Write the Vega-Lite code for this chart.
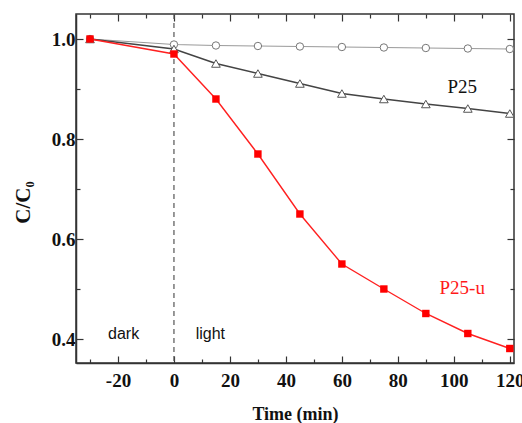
{
  "$schema": "https://vega.github.io/schema/vega-lite/v6.json",
  "autosize": "none",
  "width": 438,
  "height": 349,
  "padding": {"left": 76, "top": 14, "right": 8, "bottom": 60},
  "background": "white",
  "config": {
    "view": {"stroke": "#333", "strokeWidth": 1.5},
    "axis": {
      "grid": false,
      "domainColor": "#333",
      "domainWidth": 1.5,
      "tickColor": "#333",
      "tickWidth": 1.2,
      "labelFont": "Liberation Serif",
      "labelFontWeight": "bold",
      "labelFontSize": 19,
      "labelColor": "#111",
      "titleFont": "Liberation Serif",
      "titleFontWeight": "bold",
      "titleFontSize": 18,
      "titleColor": "#111"
    }
  },
  "resolve": {"axis": {"x": "independent", "y": "independent"}},
  "datasets": {
    "pts": [
      {"t": -30, "c": 1.0, "s": "circle"},
      {"t": 0, "c": 0.989, "s": "circle"},
      {"t": 15, "c": 0.987, "s": "circle"},
      {"t": 30, "c": 0.986, "s": "circle"},
      {"t": 45, "c": 0.985, "s": "circle"},
      {"t": 60, "c": 0.984, "s": "circle"},
      {"t": 75, "c": 0.983, "s": "circle"},
      {"t": 90, "c": 0.982, "s": "circle"},
      {"t": 105, "c": 0.981, "s": "circle"},
      {"t": 120, "c": 0.980, "s": "circle"},
      {"t": -30, "c": 1.0, "s": "P25"},
      {"t": 0, "c": 0.98, "s": "P25"},
      {"t": 15, "c": 0.951, "s": "P25"},
      {"t": 30, "c": 0.931, "s": "P25"},
      {"t": 45, "c": 0.911, "s": "P25"},
      {"t": 60, "c": 0.891, "s": "P25"},
      {"t": 75, "c": 0.880, "s": "P25"},
      {"t": 90, "c": 0.870, "s": "P25"},
      {"t": 105, "c": 0.861, "s": "P25"},
      {"t": 120, "c": 0.851, "s": "P25"},
      {"t": -30, "c": 1.0, "s": "P25-u"},
      {"t": 0, "c": 0.97, "s": "P25-u"},
      {"t": 15, "c": 0.88, "s": "P25-u"},
      {"t": 30, "c": 0.77, "s": "P25-u"},
      {"t": 45, "c": 0.65, "s": "P25-u"},
      {"t": 60, "c": 0.55, "s": "P25-u"},
      {"t": 75, "c": 0.50, "s": "P25-u"},
      {"t": 90, "c": 0.451, "s": "P25-u"},
      {"t": 105, "c": 0.411, "s": "P25-u"},
      {"t": 120, "c": 0.381, "s": "P25-u"}
    ],
    "serifLabels": [
      {"t": 103, "c": 0.905, "txt": "P25", "col": "#111"},
      {"t": 103, "c": 0.503, "txt": "P25-u", "col": "#ff1a1a"}
    ],
    "sansLabels": [
      {"t": -18, "c": 0.41, "txt": "dark"},
      {"t": 13, "c": 0.41, "txt": "light"}
    ],
    "vline": [{"t": 0, "c": 0.5}]
  },
  "layer": [
    {
      "data": {"name": "vline"},
      "mark": {"type": "rule", "color": "#555", "strokeDash": [5, 4], "strokeWidth": 1.2},
      "encoding": {
        "x": {"field": "t", "type": "quantitative", "scale": {"domain": [-35, 121.5], "nice": false, "zero": false},
          "axis": {
            "values": [-30, -20, -10, 0, 10, 20, 30, 40, 50, 60, 70, 80, 90, 100, 110, 120],
            "labelExpr": "datum.value % 20 === 0 ? '' + datum.value : ''",
            "tickSize": {"condition": {"test": "datum.value % 20 === 0", "value": -7}, "value": -4},
            "labelPadding": 15,
            "title": "Time (min)",
            "titlePadding": 15
          }
        }
      }
    },
    {
      "data": {"name": "vline"},
      "mark": {"type": "point", "opacity": 0},
      "encoding": {
        "x": {"field": "t", "type": "quantitative",
          "axis": {
            "orient": "top",
            "values": [-30, -20, -10, 0, 10, 20, 30, 40, 50, 60, 70, 80, 90, 100, 110, 120],
            "labels": false,
            "title": null,
            "domain": false,
            "tickSize": {"condition": {"test": "datum.value % 20 === 0", "value": -7}, "value": -4}
          }
        },
        "y": {"field": "c", "type": "quantitative",
          "axis": {
            "orient": "right",
            "values": [0.4, 0.5, 0.6, 0.7, 0.8, 0.9, 1.0],
            "labels": false,
            "title": null,
            "domain": false,
            "tickSize": {"condition": {"test": "(datum.value * 10) % 2 < 0.5", "value": -7}, "value": -4}
          }
        }
      }
    },
    {
      "data": {"name": "pts"},
      "transform": [{"filter": "datum.s === 'circle'"}],
      "mark": {"type": "line", "color": "#9a9a9a", "strokeWidth": 1.1, "point": {"shape": "circle", "filled": true, "fill": "white", "stroke": "#777", "strokeWidth": 1, "size": 55}},
      "encoding": {
        "x": {"field": "t", "type": "quantitative", "axis": null},
        "y": {"field": "c", "type": "quantitative", "scale": {"domain": [0.352, 1.05], "nice": false, "zero": false},
          "axis": {
            "values": [0.4, 0.5, 0.6, 0.7, 0.8, 0.9, 1.0],
            "format": ".1f",
            "labelExpr": "(datum.value * 10) % 2 < 0.5 ? datum.label : ''",
            "tickSize": {"condition": {"test": "(datum.value * 10) % 2 < 0.5", "value": -7}, "value": -4},
            "labelPadding": 8,
            "title": "C/C₀",
            "titleFontSize": 21,
            "titlePadding": 18,
            "titleY": 188
          }
        }
      }
    },
    {
      "data": {"name": "pts"},
      "transform": [{"filter": "datum.s === 'P25'"}],
      "mark": {"type": "line", "color": "#444", "strokeWidth": 1.6, "point": {"shape": "triangle-up", "filled": true, "fill": "white", "stroke": "#555", "strokeWidth": 1, "size": 75}},
      "encoding": {
        "x": {"field": "t", "type": "quantitative", "axis": null},
        "y": {"field": "c", "type": "quantitative", "axis": null}
      }
    },
    {
      "data": {"name": "pts"},
      "transform": [{"filter": "datum.s === 'P25-u'"}],
      "mark": {"type": "line", "color": "#ff2020", "strokeWidth": 1.4, "point": {"shape": "square", "filled": true, "fill": "#ff0000", "size": 55}},
      "encoding": {
        "x": {"field": "t", "type": "quantitative", "axis": null},
        "y": {"field": "c", "type": "quantitative", "axis": null}
      }
    },
    {
      "data": {"name": "serifLabels"},
      "mark": {"type": "text", "fontSize": 19, "font": "Liberation Serif", "align": "center", "baseline": "middle"},
      "encoding": {
        "x": {"field": "t", "type": "quantitative", "axis": null},
        "y": {"field": "c", "type": "quantitative", "axis": null},
        "text": {"field": "txt"},
        "color": {"field": "col", "type": "nominal", "scale": null}
      }
    },
    {
      "data": {"name": "sansLabels"},
      "mark": {"type": "text", "fontSize": 16, "font": "Liberation Sans", "align": "center", "baseline": "middle", "color": "#111"},
      "encoding": {
        "x": {"field": "t", "type": "quantitative", "axis": null},
        "y": {"field": "c", "type": "quantitative", "axis": null},
        "text": {"field": "txt"}
      }
    }
  ]
}
